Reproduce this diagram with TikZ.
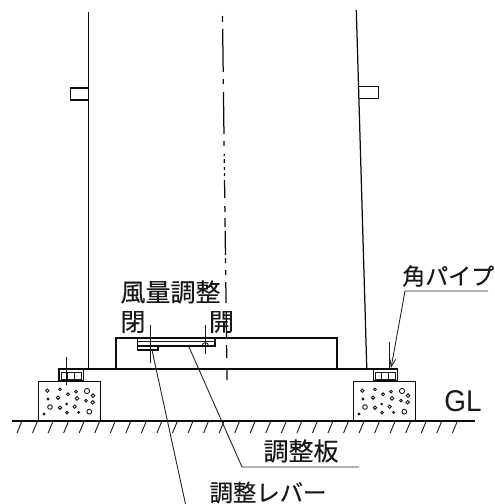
\documentclass[tikz,border=0pt]{standalone}
\usepackage{fontspec}
\setmainfont[FakeBold=0.25]{Noto Sans CJK JP}
\newfontfamily\glfont{Liberation Sans}
\usetikzlibrary{arrows.meta}
\tikzset{
  line/.style={line width=1.25pt,black!95},
  thin line/.style={line width=0.9pt,black!90},
  leader/.style={line width=0.9pt,black!85},
  label/.style={inner sep=0pt,font=\fontsize{25}{25}\selectfont,text=black!90},
  pebble/.style={line width=0.9pt,black!90},
}
\newcommand{\footing}[1]{%
  \begin{scope}[shift={(#1,375)}]
    \draw[line] (8.7,6.7) rectangle (70.3,45.7);
    \foreach \a/\b/\r in {52/47/1.7,90/43/1.4,114/58/1.5,138/50/1.4,171/48/2.6,189/62/1.8,54/72/1.0,84/68/1.7,141/70/1.8,168/77/1.4,188/82/1.8,60/96/2.3,90/98/1.7,110/87/0.8,134/95/1.7,111/113/1.4,146/112/1.0,178/110/2.4,42/117/1.0}
      \draw[pebble] (\a/3,\b/3) circle (\r);
  \end{scope}}
\newcommand{\clamp}[1]{%
  \draw[line] (#1,369) rectangle (#1+24.5,381);
  \draw[thin line] (#1+2,372) rectangle (#1+22.5,379);
  \draw[thin line] (#1+8.5,372) -- (#1+8.5,379) (#1+15.5,372) -- (#1+15.5,379);}
\begin{document}
\begin{tikzpicture}[x=1pt,y=-1pt]
\useasboundingbox (0,0) rectangle (495,504);
% poles
\draw[line] (88.5,12) -- (88.5,369);
\draw[line] (356.3,10) -- (366.8,369);
% tabs
\draw[line] (88.5,88) -- (70.7,88) -- (70.7,100) -- (88.5,100);
\draw[line] (358.5,86.5) -- (378.3,86.5) -- (378.3,98.7) -- (359,98.7);
% centre line
\foreach \a/\b in {16/22,29/72,79/84,92/134,141/146,154/156,159/163,167/170,173/176,180/198,206/212,218/227,231/255,258/263,270/275,282/303,312/338,345/358,368/380}
  \draw[line] ({222.5+0.0124*(\a-16)},\a) -- ({222.5+0.0124*(\b-16)},\b);
% base
\draw[line] (116,369) -- (116,338) -- (337,338) -- (337,369);
\draw[line] (59,369) -- (398,369);
% adjusting plate and lever
\draw[line] (137.7,338) -- (137.7,346) -- (215,346) -- (215,338);
\draw[thin line] (137.7,341) -- (215,341);
\draw[line] (137.7,346) -- (137.7,350) -- (158,350) -- (158,346);
\draw[thin line] (150.3,325) -- (150.3,363);
\draw[thin line] (205.3,325) -- (205.3,354);
\draw[thin line] (202,346) arc[start angle=180,end angle=0,x radius=3.3,y radius=-3.3];
% clamps and bolts
\clamp{59}
\clamp{373.3}
\draw[thin line] (66,357) -- (66,385);
\draw[thin line] (389.5,342) -- (389.5,369);
% footings
\footing{30}
\footing{345}
% ground
\draw[line,line width=1.4pt] (12,421) -- (475,421);
\foreach \k in {0,...,28}
  \draw[thin line] ({22+15.55*\k},421) -- ({17+15.55*\k},433);
% labels
\node[label] (fu) at (170.5,292) {風量調整};
\node[label] (hei) at (133,322) {閉};
\node[label] (kai) at (221.5,322) {開};
\node[label,anchor=west,font=\fontsize{23}{23}\selectfont] (kaku) at (402,276) {角パイプ};
\node[label,font=\glfont\fontsize{30}{30}\selectfont,xscale=0.93] (gl) at (463,401) {GL};
\node[label] (ban) at (301,451) {調整板};
\node[label,font=\fontsize{23.4}{23.4}\selectfont] (lever) at (268,492.5) {調整レバー};
% leaders
\coordinate (a1) at (488,291);
\coordinate (a2) at (405,291);
\coordinate (a3) at (391,368);
\draw[leader,-{Straight Barb[length=8pt,width=6pt]}] (a1) -- (a2) -- (a3);
\coordinate (b1) at (189,347);
\coordinate (b2) at (242,467);
\coordinate (b3) at (359,467);
\draw[leader] (b1) -- (b2) -- (b3);
\coordinate (c1) at (152,350);
\coordinate (c2) at (185.5,504);
\draw[leader] (c1) -- (c2);
\end{tikzpicture}
\end{document}
